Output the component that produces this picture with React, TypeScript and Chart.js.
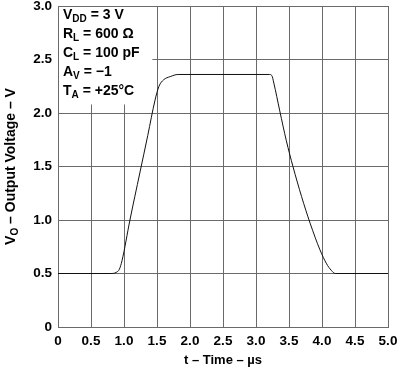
import React, { useEffect, useRef } from "react";
import { Chart, registerables } from "chart.js";

Chart.register(...registerables);

const timeUs = [0, 0.8, 0.88, 0.93, 0.97, 1.09, 1.24, 1.36, 1.47, 1.53, 1.6, 1.7, 1.82, 2.0, 3.0, 3.2, 3.24, 3.27, 3.36, 3.46, 3.56, 3.69, 3.82, 3.97, 4.07, 4.14, 4.2, 5.0];
const outputVoltage = [0.5, 0.5, 0.51, 0.54, 0.62, 1.0, 1.44, 1.79, 2.12, 2.25, 2.31, 2.34, 2.36, 2.36, 2.36, 2.36, 2.35, 2.28, 2.02, 1.74, 1.5, 1.22, 0.97, 0.72, 0.59, 0.53, 0.5, 0.5];

const xTicks = ["0", "0.5", "1.0", "1.5", "2.0", "2.5", "3.0", "3.5", "4.0", "4.5", "5.0"];
const yTicks = ["0", "0.5", "1.0", "1.5", "2.0", "2.5", "3.0"];

type Part = { t: string; sub?: boolean };
const conditions: Part[][] = [
  [{ t: "V" }, { t: "DD", sub: true }, { t: " = 3 V" }],
  [{ t: "R" }, { t: "L", sub: true }, { t: " = 600 Ω" }],
  [{ t: "C" }, { t: "L", sub: true }, { t: " = 100 pF" }],
  [{ t: "A" }, { t: "V", sub: true }, { t: " = −1" }],
  [{ t: "T" }, { t: "A", sub: true }, { t: " = +25°C" }],
];
const yTitle: Part[] = [{ t: "V" }, { t: "O", sub: true }, { t: " – Output Voltage – V" }];
const xTitle = "t – Time – µs";

const FAMILY = "'Liberation Sans', Arial, Helvetica, sans-serif";
const MAIN = `bold 14px ${FAMILY}`;
const SUB = `bold 10px ${FAMILY}`;

function measure(ctx: CanvasRenderingContext2D, parts: Part[]) {
  let w = 0;
  for (const p of parts) {
    ctx.font = p.sub ? SUB : MAIN;
    w += ctx.measureText(p.t).width;
  }
  return w;
}

function drawParts(ctx: CanvasRenderingContext2D, parts: Part[], x: number, y: number) {
  let cx = x;
  ctx.textBaseline = "alphabetic";
  ctx.textAlign = "left";
  for (const p of parts) {
    ctx.font = p.sub ? SUB : MAIN;
    ctx.fillText(p.t, cx, p.sub ? y + 3 : y);
    cx += ctx.measureText(p.t).width;
  }
}

const annotationPlugin = {
  id: "annot",
  beforeDatasetsDraw(chart: any) {
    const { ctx, chartArea, scales } = chart;
    const x = scales.x;
    const y = scales.y;
    ctx.save();
    ctx.fillStyle = "#ffffff";
    const x0 = chartArea.left + 1;
    const y0 = chartArea.top + 1;
    const x1 = x.getPixelForValue(1.43);
    const y1 = y.getPixelForValue(2.08);
    ctx.fillRect(x0, y0, x1 - x0, y1 - y0);
    ctx.fillStyle = "#000000";
    const lineStep = 19;
    conditions.forEach((parts, i) => {
      drawParts(ctx, parts, chartArea.left + 5, chartArea.top + 13 + i * lineStep);
    });
    ctx.restore();
  },
  afterDraw(chart: any) {
    const { ctx, chartArea } = chart;
    ctx.save();
    ctx.fillStyle = "#000000";
    const w = measure(ctx, yTitle);
    const cy = (chartArea.top + chartArea.bottom) / 2;
    ctx.translate(15, cy);
    ctx.rotate(-Math.PI / 2);
    drawParts(ctx, yTitle, -w / 2, 0);
    ctx.restore();
  },
};

export default function App() {
  const ref = useRef<HTMLCanvasElement | null>(null);
  useEffect(() => {
    document.body.style.margin = "0";
    const canvas = ref.current!;
    const points = timeUs.map((t, i) => ({ x: t, y: outputVoltage[i] }));
    const chart = new Chart(canvas, {
      type: "line",
      data: {
        datasets: [
          {
            data: points,
            borderColor: "#111111",
            borderWidth: 1,
            pointRadius: 0,
            fill: false,
            cubicInterpolationMode: "monotone",
          },
        ],
      },
      options: {
        animation: false,
        responsive: false,
        maintainAspectRatio: false,
        layout: { padding: 0 },
        plugins: { legend: { display: false }, tooltip: { enabled: false } },
        scales: {
          x: {
            type: "linear",
            min: 0,
            max: 5,
            afterBuildTicks: (s: any) => {
              s.ticks = xTicks.map((v) => ({ value: parseFloat(v) }));
            },
            afterFit: (s: any) => {
              s.height = 42;
              s.paddingRight = 10;
            },
            ticks: {
              color: "#000",
              font: { family: FAMILY, size: 13.5, weight: "bold" },
              padding: 6,
              maxRotation: 0,
              autoSkip: false,
              callback: (v: any) => xTicks.find((t) => parseFloat(t) === v) ?? "",
            },
            grid: { color: "#6a6a6a", lineWidth: 1, drawTicks: false },
            border: { color: "#6a6a6a", width: 1 },
            title: {
              display: true,
              text: xTitle,
              color: "#000",
              font: { family: FAMILY, size: 13, weight: "bold" },
              padding: { top: 0, bottom: 1 },
            },
          },
          y: {
            type: "linear",
            min: 0,
            max: 3,
            afterBuildTicks: (s: any) => {
              s.ticks = yTicks.map((v) => ({ value: parseFloat(v) }));
            },
            afterFit: (s: any) => {
              s.width = 58;
              s.paddingTop = 6;
            },
            ticks: {
              color: "#000",
              font: { family: FAMILY, size: 13.5, weight: "bold" },
              padding: 6,
              autoSkip: false,
              callback: (v: any) => yTicks.find((t) => parseFloat(t) === v) ?? "",
            },
            grid: { color: "#6a6a6a", lineWidth: 1, drawTicks: false },
            border: { color: "#6a6a6a", width: 1 },
          },
        },
      } as any,
      plugins: [annotationPlugin],
    });
    return () => chart.destroy();
  }, []);
  return (
    <div style={{ width: 398, height: 369, background: "#fff" }}>
      <canvas ref={ref} width={398} height={369} style={{ display: "block" }} />
    </div>
  );
}
